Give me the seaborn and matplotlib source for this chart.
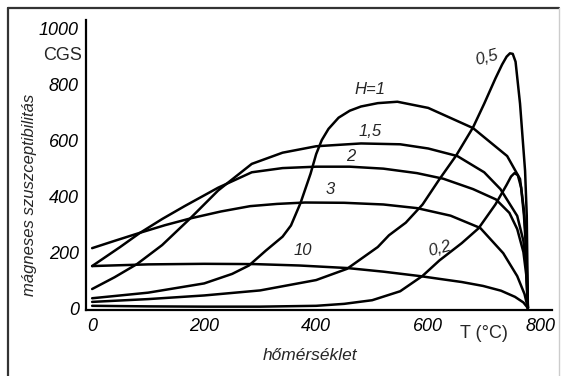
import numpy as np
import pandas as pd
import seaborn as sns
import matplotlib.pyplot as plt
from matplotlib.lines import Line2D

# values: temperature (deg C) -> susceptibility (CGS)
t_h02 = [0, 100, 200, 300, 400, 450, 500, 550, 590, 620, 660, 690, 720, 740, 748, 754, 760, 766, 771, 775, 778]
v_h02 = [8, 6, 5, 5, 8, 15, 28, 60, 115, 170, 232, 285, 370, 440, 470, 482, 475, 430, 330, 200, 0]

t_h05 = [0, 100, 200, 300, 400, 455, 510, 530, 560, 590, 620, 650, 680, 700, 720, 732, 740, 746, 751, 756, 764, 773, 776, 778]
v_h05 = [22, 32, 45, 63, 100, 140, 218, 260, 305, 370, 460, 545, 645, 730, 820, 870, 898, 910, 908, 880, 730, 490, 330, 0]

t_h1 = [0, 100, 200, 250, 280, 310, 340, 355, 372, 390, 400, 410, 422, 440, 460, 480, 510, 545, 600, 680, 741, 764, 771, 775, 778]
v_h1 = [35, 55, 88, 122, 152, 205, 255, 295, 375, 480, 550, 600, 640, 680, 705, 720, 732, 737, 715, 643, 543, 461, 350, 230, 0]

t_h15 = [0, 40, 80, 125, 175, 225, 285, 340, 400, 480, 550, 600, 652, 700, 729, 759, 770, 775, 778]
v_h15 = [68, 110, 157, 225, 320, 420, 515, 555, 578, 588, 585, 570, 543, 485, 425, 329, 240, 150, 0]

t_h2 = [0, 50, 85, 125, 165, 225, 285, 340, 400, 460, 520, 580, 627, 680, 721, 745, 759, 770, 775, 778]
v_h2 = [150, 218, 268, 318, 364, 430, 485, 500, 505, 505, 498, 482, 462, 425, 388, 340, 282, 200, 120, 0]

t_h3 = [0, 40, 84, 130, 177, 230, 282, 330, 380, 450, 520, 580, 640, 693, 734, 759, 772, 778]
v_h3 = [214, 240, 268, 296, 321, 345, 364, 372, 377, 376, 370, 357, 330, 286, 196, 114, 50, 0]

t_h10 = [0, 100, 200, 290, 370, 455, 520, 586, 621, 660, 698, 730, 755, 770, 778]
v_h10 = [150, 156, 158, 157, 152, 143, 130, 114, 104, 93, 79, 62, 40, 20, 0]

curve_labels = ['H=1', '1,5', '2', '3', '10', '0,2', '0,5']
label_t = [496, 496, 461, 425, 377, 621, 705]
label_v = [782, 632, 543, 425, 204, 211, 893]
label_rot = [0, 0, 0, 0, 0, 15, 15]

x_major = [0, 200, 400, 600, 800]
x_minor = [100, 300, 500, 700]
y_major = [0, 200, 400, 600, 800, 1000]

sns.set_style("white")
plt.rcParams['font.family'] = ['Liberation Sans', 'DejaVu Sans']

fig = plt.figure(figsize=(5.66, 3.76), dpi=100)
ax = fig.add_axes([0.1519, 0.1755, 0.8233, 0.7713])

for t, v in [(t_h02, v_h02), (t_h05, v_h05), (t_h1, v_h1), (t_h15, v_h15),
             (t_h2, v_h2), (t_h3, v_h3), (t_h10, v_h10)]:
    df = pd.DataFrame({'T': t, 'chi': v})
    sns.lineplot(data=df, x='T', y='chi', color='black', linewidth=1.8, ax=ax)

for txt, t, v, r in zip(curve_labels, label_t, label_v, label_rot):
    ax.text(t, v, txt, fontsize=12, style='italic', ha='center', va='center', rotation=r)

ax.set_xlim(-11, 821)
ax.set_ylim(-7, 1029)
ax.set_xticks(x_major)
ax.set_xticks(x_minor, minor=True)
ax.set_yticks(y_major)
ax.set_xticklabels([str(x) for x in x_major], fontsize=13, style='italic')
ax.set_yticklabels([str(y) for y in y_major], fontsize=13, style='italic')
ax.tick_params(axis='x', which='both', direction='in', length=5, width=1.2, pad=6, colors='black')
ax.tick_params(axis='y', direction='out', length=3, width=1.2, pad=2, colors='black')
ax.set_xlabel('')
ax.set_ylabel('')

for s in ['top', 'right']:
    ax.spines[s].set_visible(False)
for s in ['left', 'bottom']:
    ax.spines[s].set_color('black')
    ax.spines[s].set_linewidth(1.6)

fig.text(63 / 566, 1 - 55 / 376, 'CGS', fontsize=13, ha='center', va='center')
fig.text(30 / 566, 1 - 195 / 376, 'mágneses szuszceptibilitás', fontsize=12,
         style='italic', rotation=90, ha='center', va='center')
fig.text(310 / 566, 1 - 355 / 376, 'hőmérséklet', fontsize=12.5, style='italic',
         ha='center', va='center')
fig.text(484 / 566, 1 - 333 / 376, 'T (°C)', fontsize=13, ha='center', va='center')

# scan frame
fig.add_artist(Line2D([8 / 566, 8 / 566], [0.0, 1 - 8 / 376], transform=fig.transFigure,
                      color='#333333', linewidth=1.6))
fig.add_artist(Line2D([8 / 566, 559 / 566], [1 - 8 / 376, 1 - 8 / 376], transform=fig.transFigure,
                      color='#333333', linewidth=1.6))
fig.add_artist(Line2D([559 / 566, 559 / 566], [0.0, 1 - 8 / 376], transform=fig.transFigure,
                      color='#cccccc', linewidth=1.0))

fig.savefig('out.png', dpi=100)
